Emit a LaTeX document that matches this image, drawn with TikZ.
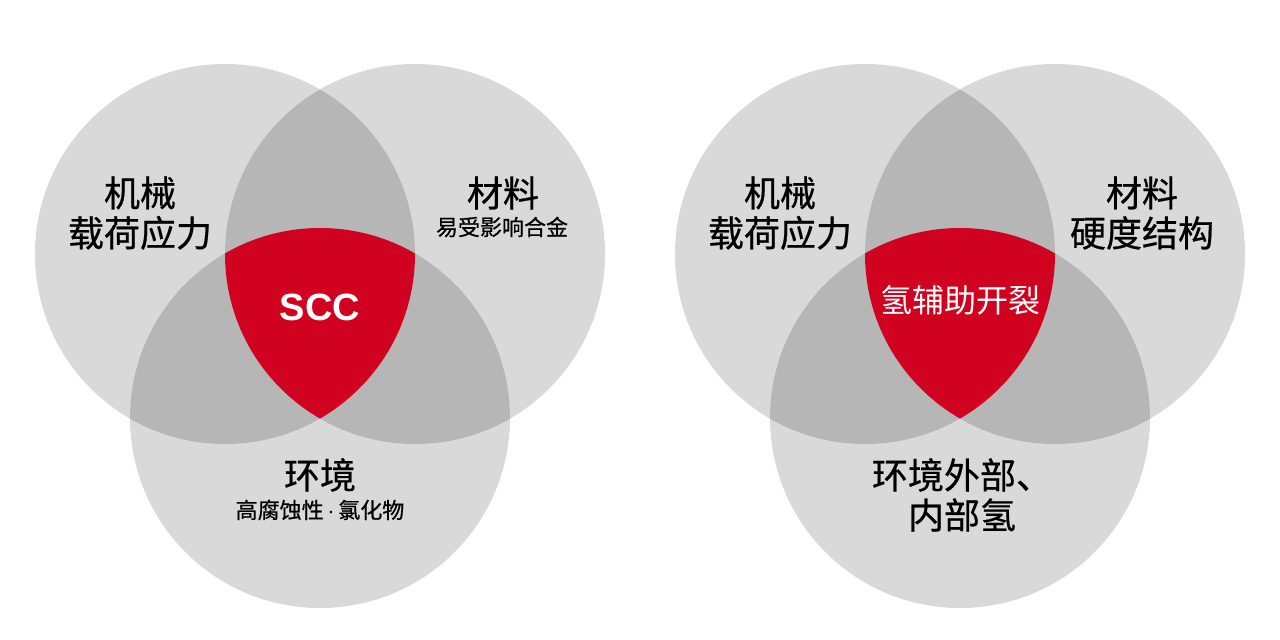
\documentclass[tikz,border=0pt]{standalone}
\usepackage{fontspec}
\newfontfamily\cjk{Noto Sans CJK SC}[FakeBold=0.6]
\newfontfamily\cjkw{Noto Sans CJK SC}
\setmainfont{Liberation Sans}
\definecolor{lightg}{HTML}{D9D9D9}
\definecolor{midg}{HTML}{B6B6B6}
\definecolor{redc}{HTML}{D0021F}
\tikzset{
  big/.style={font=\cjk\fontsize{36}{40}\selectfont, text=black, align=center, inner sep=0pt},
  small/.style={font=\cjk\fontsize{22}{26}\selectfont, text=black, align=center, inner sep=0pt},
  core/.style={font=\cjkw\fontsize{32}{36}\selectfont, text=white, inner sep=0pt},
  scc/.style={font=\bfseries\fontsize{38}{42}\selectfont, text=white, inner sep=0pt},
}
\newcommand{\venn}[3]{% left center x, right center x, bottom center x
  \fill[lightg] (#1,254) circle[radius=190pt];
  \fill[lightg] (#2,254) circle[radius=190pt];
  \fill[lightg] (#3,418) circle[radius=190pt];
  \begin{scope}\clip (#1,254) circle[radius=190pt];
    \fill[midg] (#2,254) circle[radius=190pt];
    \fill[midg] (#3,418) circle[radius=190pt];
  \end{scope}
  \begin{scope}\clip (#2,254) circle[radius=190pt];
    \fill[midg] (#3,418) circle[radius=190pt];
  \end{scope}
  \begin{scope}\clip (#1,254) circle[radius=190pt];
    \clip (#2,254) circle[radius=190pt];
    \fill[redc] (#3,418) circle[radius=190pt];
  \end{scope}
}
\begin{document}
\begin{tikzpicture}[x=1pt,y=-1pt]
\useasboundingbox[fill=white] (0,0) rectangle (1280,640);
\venn{225}{415}{320}
\venn{865}{1055}{960}
% left diagram texts
\node[big] (lmech) at (140,213) {机械\\载荷应力};
\node[big] (lmat) at (503,193) {材料};
\node[small] (lmatsub) at (502,227) {易受影响合金};
\node[scc] (lscc) at (320,307) {SCC};
\node[big] (lenv) at (320,475) {环境};
\node[small] (lenvsub) at (320,510) {高腐蚀性{\normalfont\,·\,}氯化物};
% right diagram texts
\node[big] (rmech) at (780,213) {机械\\载荷应力};
\node[big] (rmat) at (1142,213) {材料\\硬度结构};
\node[core] (rcore) at (960,300) {氢辅助开裂};
\node[big] (renv) at (962,495) {环境外部、\\内部氢};
\end{tikzpicture}
\end{document}
